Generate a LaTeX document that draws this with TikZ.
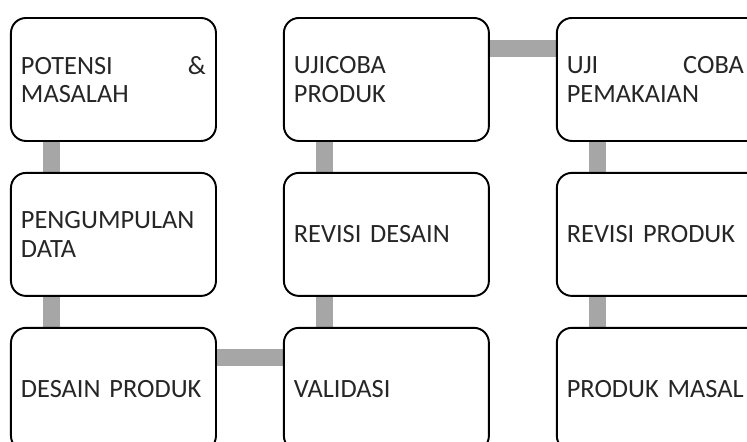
\documentclass[tikz,border=0pt]{standalone}
\usepackage{fontspec}
\setmainfont{Carlito}
\usetikzlibrary{positioning,backgrounds}
\hyphenpenalty=10000
\exhyphenpenalty=10000

\tikzset{
    stepbox/.style={draw=black, line width=1.1pt, rounded corners=0.3cm, fill=white,
        minimum width=4.1cm, minimum height=2.46cm, text width=3.7cm,
        inner xsep=0.2cm, align=left,
        font=\fontsize{15}{16.2}\selectfont, text=black!85},
    link/.style={draw=black!35, line width=0.34cm}
}

\begin{document}
\begin{tikzpicture}[scale=1]
                \clip (0,0) rectangle (14.94,-8.82);
                \useasboundingbox (0,0) rectangle (14.94,-8.82);
                % first column
                \node[stepbox, anchor=north west] (potensi) at (0.2,-0.34) {POTENSI \hfill \&\\MASALAH};
                \node[stepbox, below=0.6cm of potensi] (pengumpulan) {PENGUMPULAN\\DATA};
                \node[stepbox, below=0.6cm of pengumpulan] (desain) {DESAIN PRODUK};

                % second column
                \node[stepbox, right=1.32cm of desain] (validasi) {VALIDASI};
                \node[stepbox, above=0.6cm of validasi] (revdesain) {REVISI DESAIN};
                \node[stepbox, above=0.6cm of revdesain] (ujicoba) {UJICOBA\\PRODUK};

                % third column
                \node[stepbox, right=1.32cm of ujicoba] (ujipakai) {UJI \hfill COBA\rule{0.16cm}{0pt}\\PEMAKAIAN};
                \node[stepbox, below=0.6cm of ujipakai] (revproduk) {REVISI PRODUK};
                \node[stepbox, below=0.6cm of revproduk] (masal) {PRODUK MASAL};

                \begin{scope}[on background layer]
                \draw[link] ([xshift=0.84cm]potensi.south west) -- ([xshift=0.84cm]pengumpulan.north west);
                \draw[link] ([xshift=0.84cm]pengumpulan.south west) -- ([xshift=0.84cm]desain.north west);
                \draw[link] ([yshift=-0.62cm]desain.north east) -- ([yshift=-0.62cm]validasi.north west);
                \draw[link] ([xshift=0.84cm]validasi.north west) -- ([xshift=0.84cm]revdesain.south west);
                \draw[link] ([xshift=0.84cm]revdesain.north west) -- ([xshift=0.84cm]ujicoba.south west);
                \draw[link] ([yshift=-0.62cm]ujicoba.north east) -- ([yshift=-0.62cm]ujipakai.north west);
                \draw[link] ([xshift=0.84cm]ujipakai.south west) -- ([xshift=0.84cm]revproduk.north west);
                \draw[link] ([xshift=0.84cm]revproduk.south west) -- ([xshift=0.84cm]masal.north west);
                \end{scope}
\end{tikzpicture}
\end{document}
